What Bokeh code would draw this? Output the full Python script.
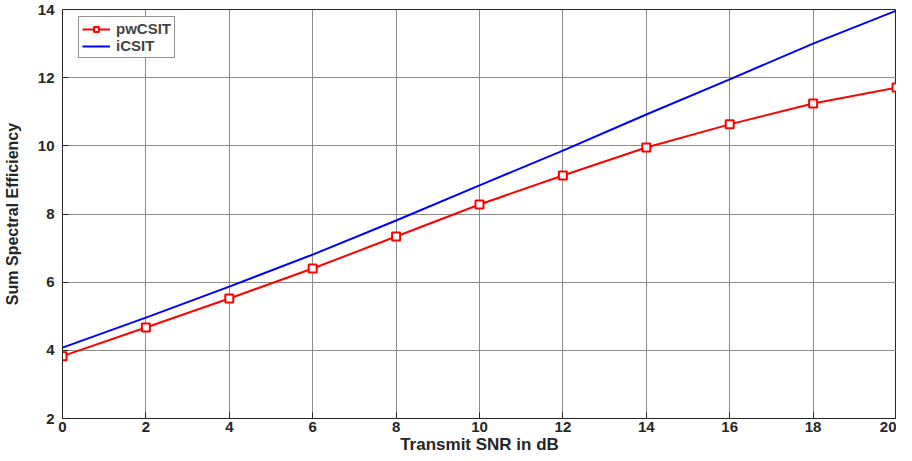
from bokeh.plotting import figure
from bokeh.embed import file_html
from bokeh.resources import INLINE
from bokeh.models import Legend, LegendItem, FixedTicker, Range1d

snr = [0, 2, 4, 6, 8, 10, 12, 14, 16, 18, 20]
pwcsit = [3.83, 4.67, 5.52, 6.40, 7.34, 8.28, 9.13, 9.95, 10.63, 11.24, 11.71]
icsit = [4.08, 4.96, 5.87, 6.81, 7.81, 8.84, 9.86, 10.92, 11.95, 13.0, 13.97]
xticks = [0, 2, 4, 6, 8, 10, 12, 14, 16, 18, 20]
yticks = [2, 4, 6, 8, 10, 12, 14]

p = figure(width=896, height=456, output_backend="svg", toolbar_location=None,
           x_range=Range1d(0, 20), y_range=Range1d(2, 14),
           min_border_left=20, min_border_right=0, min_border_top=9, min_border_bottom=0)

font = "Liberation Sans"
for ax in (p.xaxis, p.yaxis):
    ax.major_label_text_font = font
    ax.major_label_text_font_style = "bold"
    ax.major_label_text_font_size = "15px"
    ax.major_label_text_color = "#262626"
    ax.axis_label_text_font = font
    ax.axis_label_text_font_style = "bold"
    ax.axis_label_text_color = "#262626"
    ax.axis_line_color = "#262626"
    ax.major_tick_in = 6
    ax.major_tick_out = 0
    ax.minor_tick_line_color = None
    ax.major_tick_line_color = "#262626"

p.xaxis.axis_label_text_font_size = "17px"
p.yaxis.axis_label_text_font_size = "16px"
p.xaxis.ticker = FixedTicker(ticks=xticks)
p.yaxis.ticker = FixedTicker(ticks=yticks)
p.xaxis.axis_label = "Transmit SNR in dB"
p.yaxis.axis_label = "Sum Spectral Efficiency"
p.xaxis.axis_label_standoff = 0
p.yaxis.axis_label_standoff = 14
p.xaxis.major_label_standoff = 3
p.yaxis.major_label_standoff = 8

p.xgrid.ticker = FixedTicker(ticks=xticks)
p.ygrid.ticker = FixedTicker(ticks=yticks)
p.grid.grid_line_color = "#808080"
p.grid.grid_line_alpha = 0.9
p.grid.grid_line_width = 1

p.outline_line_color = "#262626"
p.outline_line_width = 1
p.outline_line_alpha = 1

r1 = p.line(snr, pwcsit, line_color="#ff0000", line_width=2)
r1m = p.scatter(snr, pwcsit, marker="square", size=8, line_color="#ff0000",
                fill_color="white", line_width=2)
r2 = p.line(snr, icsit, line_color="#0000ff", line_width=2)

legend = Legend(items=[LegendItem(label="pwCSIT", renderers=[r1, r1m]),
                       LegendItem(label="iCSIT", renderers=[r2])],
                location=(16, 360))
legend.label_text_font = font
legend.label_text_font_style = "bold"
legend.label_text_font_size = "15px"
legend.label_height = 12
legend.glyph_height = 12
legend.glyph_width = 28
legend.spacing = 0
legend.padding = 3
legend.margin = 0
legend.border_line_color = "#262626"
legend.border_line_width = 1
legend.label_standoff = 6
p.add_layout(legend)

open("out.html", "w").write(file_html(p, INLINE))
